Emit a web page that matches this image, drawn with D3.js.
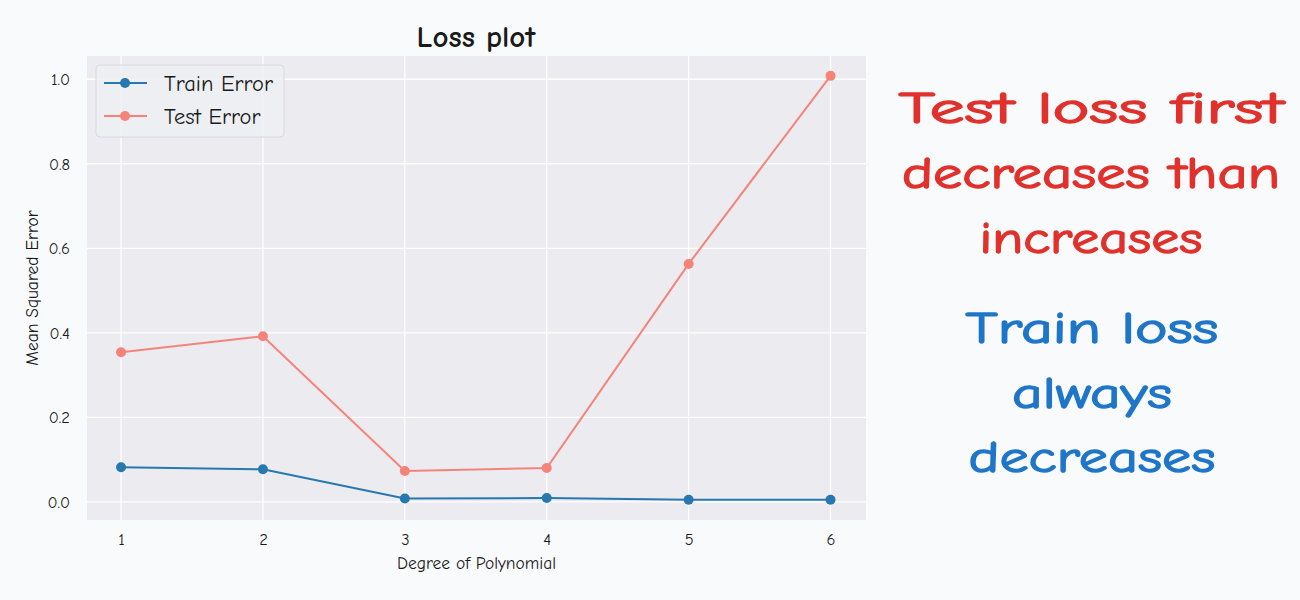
<!DOCTYPE html>
<html>
<head>
<meta charset="utf-8">
<script src="https://cdn.jsdelivr.net/npm/d3@7"></script>
<style>
  body { margin: 0; background: #f9fafc; }
  svg { display: block; }
  text { font-family: "Comic Neue", "Comic Sans MS", "Lato", "Noto Sans", sans-serif; }
</style>
</head>
<body>
<svg id="chart" width="1300" height="600"></svg>
<script>
// data
var degrees = [1, 2, 3, 4, 5, 6]
var trainError = [0.082, 0.077, 0.008, 0.009, 0.005, 0.005]
var testError = [0.354, 0.392, 0.073, 0.080, 0.563, 1.008]
var yTicks = [0.0, 0.2, 0.4, 0.6, 0.8, 1.0]
var seriesNames = ['Train Error', 'Test Error']
var seriesColors = ['#2878b0', '#f4847a']
var redNote = ['Test loss first', 'decreases than', 'increases']
var redWidths = [385, 378, 223]
var blueNote = ['Train loss', 'always', 'decreases']
var blueWidths = [253, 160, 247]

var svg = d3.select('#chart')
var plot = { left: 87, right: 866, top: 56, bottom: 520 }

var x = d3.scaleLinear().domain([0.76, 6.25]).range([plot.left, plot.right])
var y = d3.scaleLinear().domain([-0.043, 1.055]).range([plot.bottom, plot.top])

// plot background
svg.append('rect')
  .attr('x', plot.left).attr('y', plot.top)
  .attr('width', plot.right - plot.left).attr('height', plot.bottom - plot.top)
  .attr('fill', '#ebebf0')

// grid lines
var grid = svg.append('g')
grid.selectAll('line.gx').data(degrees).enter().append('line')
  .attr('x1', function(d) { return x(d) }).attr('x2', function(d) { return x(d) })
  .attr('y1', plot.top).attr('y2', plot.bottom)
  .attr('stroke', '#fff').attr('stroke-width', 1.3)
grid.selectAll('line.gy').data(yTicks).enter().append('line')
  .attr('y1', function(d) { return y(d) }).attr('y2', function(d) { return y(d) })
  .attr('x1', plot.left).attr('x2', plot.right)
  .attr('stroke', '#fff').attr('stroke-width', 1.3)

// axes (no domain lines, no tick marks, seaborn darkgrid look)
var xAxis = svg.append('g')
  .attr('transform', 'translate(0,' + (plot.bottom + 7) + ')')
  .call(d3.axisBottom(x).tickValues(degrees).tickSize(0).tickFormat(d3.format('d')))
xAxis.select('.domain').remove()
xAxis.selectAll('text').attr('font-size', 16.5).attr('fill', '#1a1a1a').attr('dy', '0.9em')

var yAxis = svg.append('g')
  .attr('transform', 'translate(' + (plot.left - 14) + ',0)')
  .call(d3.axisLeft(y).tickValues(yTicks).tickSize(0).tickFormat(d3.format('.1f')))
yAxis.select('.domain').remove()
yAxis.selectAll('text').attr('font-size', 16.5).attr('fill', '#1a1a1a')

// axis labels and title
svg.append('text')
  .attr('x', (plot.left + plot.right) / 2).attr('y', 569)
  .attr('text-anchor', 'middle').attr('font-size', 17.5).attr('fill', '#1a1a1a')
  .text('Degree of Polynomial')
svg.append('text')
  .attr('transform', 'translate(38,' + ((plot.top + plot.bottom) / 2) + ') rotate(-90)')
  .attr('text-anchor', 'middle').attr('font-size', 17.5).attr('fill', '#1a1a1a')
  .text('Mean Squared Error')
svg.append('text')
  .attr('x', 476).attr('y', 47)
  .attr('text-anchor', 'middle').attr('font-size', 31).attr('font-weight', 'bold').attr('fill', '#1a1a1a')
  .text('Loss plot')

// lines and markers
var line = d3.line()
  .x(function(d, i) { return x(degrees[i]) })
  .y(function(d) { return y(d) })

;[trainError, testError].forEach(function(values, k) {
  var g = svg.append('g')
  g.append('path')
    .attr('d', line(values))
    .attr('fill', 'none')
    .attr('stroke', seriesColors[k])
    .attr('stroke-width', 2)
  g.selectAll('circle').data(values).enter().append('circle')
    .attr('cx', function(d, i) { return x(degrees[i]) })
    .attr('cy', function(d) { return y(d) })
    .attr('r', 5)
    .attr('fill', seriesColors[k])
})

// legend
var legend = svg.append('g')
legend.append('rect')
  .attr('x', 96).attr('y', 65).attr('width', 188).attr('height', 72).attr('rx', 4)
  .attr('fill', '#eeeff3').attr('fill-opacity', 0.9)
  .attr('stroke', '#d8d8de')
seriesNames.forEach(function(name, k) {
  var ly = 83 + k * 33
  legend.append('line')
    .attr('x1', 104).attr('x2', 147).attr('y1', ly).attr('y2', ly)
    .attr('stroke', seriesColors[k]).attr('stroke-width', 2)
  legend.append('circle')
    .attr('cx', 125).attr('cy', ly).attr('r', 5).attr('fill', seriesColors[k])
  legend.append('text')
    .attr('x', 164).attr('y', ly).attr('dy', '0.35em')
    .attr('font-size', 22.5).attr('fill', '#1a1a1a')
    .text(name)
})

// hand-written notes on the right (thin stroke to thicken the pen line)
var notes = svg.append('g')
  .attr('stroke-linejoin', 'round')
redNote.forEach(function(s, i) {
  notes.append('text')
    .attr('x', 1091).attr('y', 123 + i * 65)
    .attr('text-anchor', 'middle').attr('font-size', 45)
    .attr('fill', '#e0312c').attr('stroke', '#e0312c').attr('stroke-width', 1.4)
    .attr('textLength', redWidths[i]).attr('lengthAdjust', 'spacingAndGlyphs')
    .text(s)
})
blueNote.forEach(function(s, i) {
  notes.append('text')
    .attr('x', 1092).attr('y', 343 + i * 64.5)
    .attr('text-anchor', 'middle').attr('font-size', 45)
    .attr('fill', '#1f76c8').attr('stroke', '#1f76c8').attr('stroke-width', 1.4)
    .attr('textLength', blueWidths[i]).attr('lengthAdjust', 'spacingAndGlyphs')
    .text(s)
})
</script>
</body>
</html>
